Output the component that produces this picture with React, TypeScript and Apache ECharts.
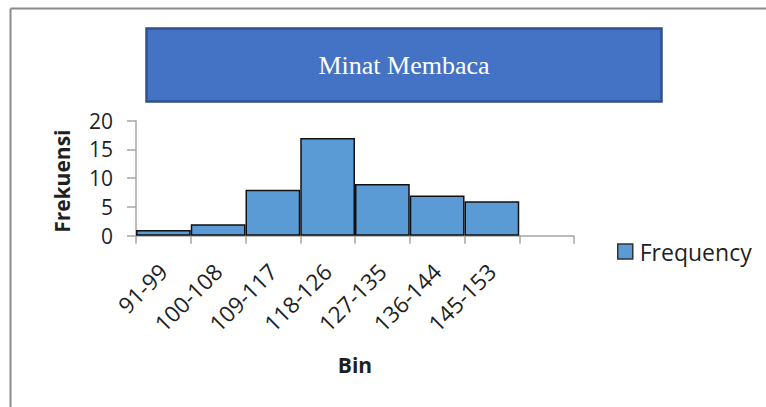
import React, { useEffect, useRef } from "react";
import * as echarts from "echarts";

const categories = ["91-99", "100-108", "109-117", "118-126", "127-135", "136-144", "145-153", ""];
const frequency = [1, 2, 8, 17, 9, 7, 6, null];
const titleText = "Minat Membaca";
const seriesName = "Frequency";
const yAxisName = "Frekuensi";
const xAxisName = "Bin";

const FONT = "'Open Sans', 'Noto Sans', sans-serif";

export default function App() {
  const ref = useRef<HTMLDivElement>(null);
  useEffect(() => {
    if (!ref.current) return;
    const chart = echarts.init(ref.current, undefined, { renderer: "svg" });
    chart.setOption({
      animation: false,
      backgroundColor: "#ffffff",
      grid: { left: 136, top: 120.7, width: 438, height: 115, containLabel: false },
      legend: {
        data: [seriesName],
        left: 617,
        top: 240,
        padding: 0,
        icon: "rect",
        itemWidth: 15,
        itemHeight: 15,
        itemStyle: { borderColor: "#333333", borderWidth: 1.5 },
        textStyle: { fontFamily: FONT, fontSize: 23, color: "#1f1f1f", padding: [0, 0, 0, 2] },
      },
      xAxis: {
        type: "category",
        data: categories,
        name: xAxisName,
        nameLocation: "middle",
        nameGap: 119,
        nameTextStyle: { fontFamily: FONT, fontSize: 21, fontWeight: "bold", color: "#1f1f1f" },
        axisLine: { lineStyle: { color: "#A6A6A6", width: 1.5 } },
        axisTick: { show: true, length: 8, lineStyle: { color: "#A6A6A6", width: 1.5 } },
        axisLabel: {
          rotate: 45,
          interval: 0,
          margin: 32,
          fontFamily: FONT,
          fontSize: 22.5,
          color: "#1f1f1f",
        },
        splitLine: { show: false },
      },
      yAxis: {
        type: "value",
        min: 0,
        max: 20,
        interval: 5,
        name: yAxisName,
        nameLocation: "middle",
        nameGap: 64,
        nameTextStyle: {
          fontFamily: FONT,
          fontSize: 21,
          fontWeight: "bold",
          color: "#1f1f1f",
          padding: [0, 6, 0, 0],
        },
        axisLine: { show: true, lineStyle: { color: "#A6A6A6", width: 1.5 } },
        axisTick: { show: true, length: 9, lineStyle: { color: "#A6A6A6", width: 1.5 } },
        axisLabel: { margin: 23, fontFamily: FONT, fontSize: 21, color: "#1f1f1f" },
        splitLine: { show: false },
      },
      series: [
        {
          name: seriesName,
          type: "bar",
          data: frequency,
          barCategoryGap: 0,
          itemStyle: { color: "#5B9BD5", borderColor: "#111111", borderWidth: 1.5 },
        },
      ],
      graphic: [
        {
          type: "line",
          shape: { x1: 10.5, y1: 8.5, x2: 800, y2: 8.5 },
          style: { stroke: "#8C8C8C", lineWidth: 2 },
          silent: true,
        },
        {
          type: "line",
          shape: { x1: 10.5, y1: 8.5, x2: 10.5, y2: 420 },
          style: { stroke: "#8C8C8C", lineWidth: 2 },
          silent: true,
        },
        {
          type: "rect",
          shape: { x: 146.5, y: 28.5, width: 515, height: 73 },
          style: { fill: "#4472C4", stroke: "#2F528F", lineWidth: 2.5 },
          silent: true,
        },
        {
          type: "text",
          x: 404,
          y: 65,
          style: {
            text: titleText,
            fill: "#ffffff",
            font: "26px 'Liberation Serif', 'DejaVu Serif', serif",
            align: "center",
            verticalAlign: "middle",
          },
          silent: true,
        },
      ],
    });
    return () => chart.dispose();
  }, []);
  return (
    <div
      ref={ref}
      style={{ position: "fixed", left: 0, top: 0, width: 766, height: 407 }}
    />
  );
}
